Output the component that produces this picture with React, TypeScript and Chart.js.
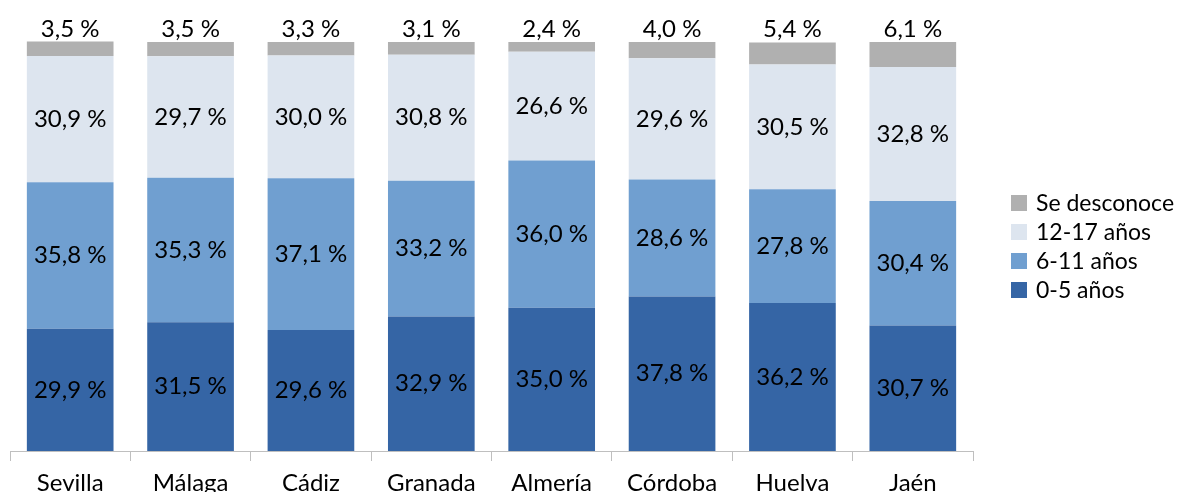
import React, { useEffect, useRef } from "react";
import { Chart, registerables } from "chart.js";

Chart.register(...registerables);

const categories = ["Sevilla", "Málaga", "Cádiz", "Granada", "Almería", "Córdoba", "Huelva", "Jaén"];
const age0to5 = [29.9, 31.5, 29.6, 32.9, 35.0, 37.8, 36.2, 30.7];
const age6to11 = [35.8, 35.3, 37.1, 33.2, 36.0, 28.6, 27.8, 30.4];
const age12to17 = [30.9, 29.7, 30.0, 30.8, 26.6, 29.6, 30.5, 32.8];
const unknown = [3.5, 3.5, 3.3, 3.1, 2.4, 4.0, 5.4, 6.1];
const seriesLabels = ["0-5 años", "6-11 años", "12-17 años", "Se desconoce"];
const seriesColors = ["#3565a5", "#709fd0", "#dde5ef", "#b0b0b0"];

const FONT = "Lato, 'Open Sans', sans-serif";

const fmt = (v: number) => v.toFixed(1).replace(".", ",") + " %";

const labelPlugin = {
  id: "segLabels",
  afterDatasetsDraw(chart: any) {
    const ctx = chart.ctx;
    ctx.save();
    ctx.fillStyle = "#000000";
    ctx.font = `24px ${FONT}`;
    ctx.textAlign = "center";
    const n = chart.data.datasets.length;
    chart.data.datasets.forEach((ds: any, i: number) => {
      const meta = chart.getDatasetMeta(i);
      meta.data.forEach((el: any, j: number) => {
        const v = ds.data[j];
        if (i === n - 1) {
          ctx.textBaseline = "alphabetic";
          ctx.fillText(fmt(v), el.x, el.y - 5);
        } else {
          ctx.textBaseline = "middle";
          ctx.fillText(fmt(v), el.x, (el.y + el.base) / 2);
        }
      });
    });
    ctx.restore();
  },
};

const legendPlugin = {
  id: "sideLegend",
  afterDraw(chart: any) {
    const ctx = chart.ctx;
    const area = chart.chartArea;
    ctx.save();
    ctx.font = `23px ${FONT}`;
    ctx.textBaseline = "middle";
    ctx.textAlign = "left";
    const n = chart.data.datasets.length;
    const x0 = area.right + 38;
    const y0 = 195;
    const step = 29;
    for (let k = 0; k < n; k++) {
      const i = n - 1 - k;
      const ds = chart.data.datasets[i];
      const y = y0 + k * step;
      ctx.fillStyle = ds.backgroundColor;
      ctx.fillRect(x0, y, 16, 16);
      ctx.fillStyle = "#000000";
      ctx.fillText(ds.label, x0 + 25, y + 8.5);
    }
    ctx.restore();
  },
};

export default function App() {
  const canvasRef = useRef<HTMLCanvasElement | null>(null);

  useEffect(() => {
    if (!canvasRef.current) return;
    const seriesData = [age0to5, age6to11, age12to17, unknown];
    const chart = new Chart(canvasRef.current, {
      type: "bar",
      data: {
        labels: categories,
        datasets: seriesData.map((d, i) => ({
          label: seriesLabels[i],
          data: d,
          backgroundColor: seriesColors[i],
          borderWidth: 0,
          categoryPercentage: 1,
          barPercentage: 0.72,
          clip: false as any,
        })),
      },
      options: {
        animation: false,
        responsive: true,
        maintainAspectRatio: false,
        layout: { padding: { left: 10, right: 211, top: 42, bottom: 0 } },
        plugins: {
          legend: { display: false },
          tooltip: { enabled: false },
        },
        scales: {
          x: {
            stacked: true,
            grid: {
              display: true,
              drawOnChartArea: false,
              drawTicks: true,
              tickLength: 10,
              color: "#bfbfbf",
              lineWidth: 1,
            },
            border: { display: true, color: "#bfbfbf", width: 1 },
            ticks: {
              color: "#000000",
              font: { family: FONT, size: 24 },
              padding: 8,
              maxRotation: 0,
              autoSkip: false,
            },
            afterFit: (scale: any) => {
              scale.height = 41;
            },
          },
          y: {
            stacked: true,
            display: false,
            min: 0,
            max: 100,
          },
        },
      },
      plugins: [labelPlugin, legendPlugin],
    });
    return () => chart.destroy();
  }, []);

  return (
    <div style={{ position: "fixed", left: 0, top: 0, width: 1184, height: 492, overflow: "hidden", background: "#ffffff" }}>
      <canvas ref={canvasRef} />
    </div>
  );
}
